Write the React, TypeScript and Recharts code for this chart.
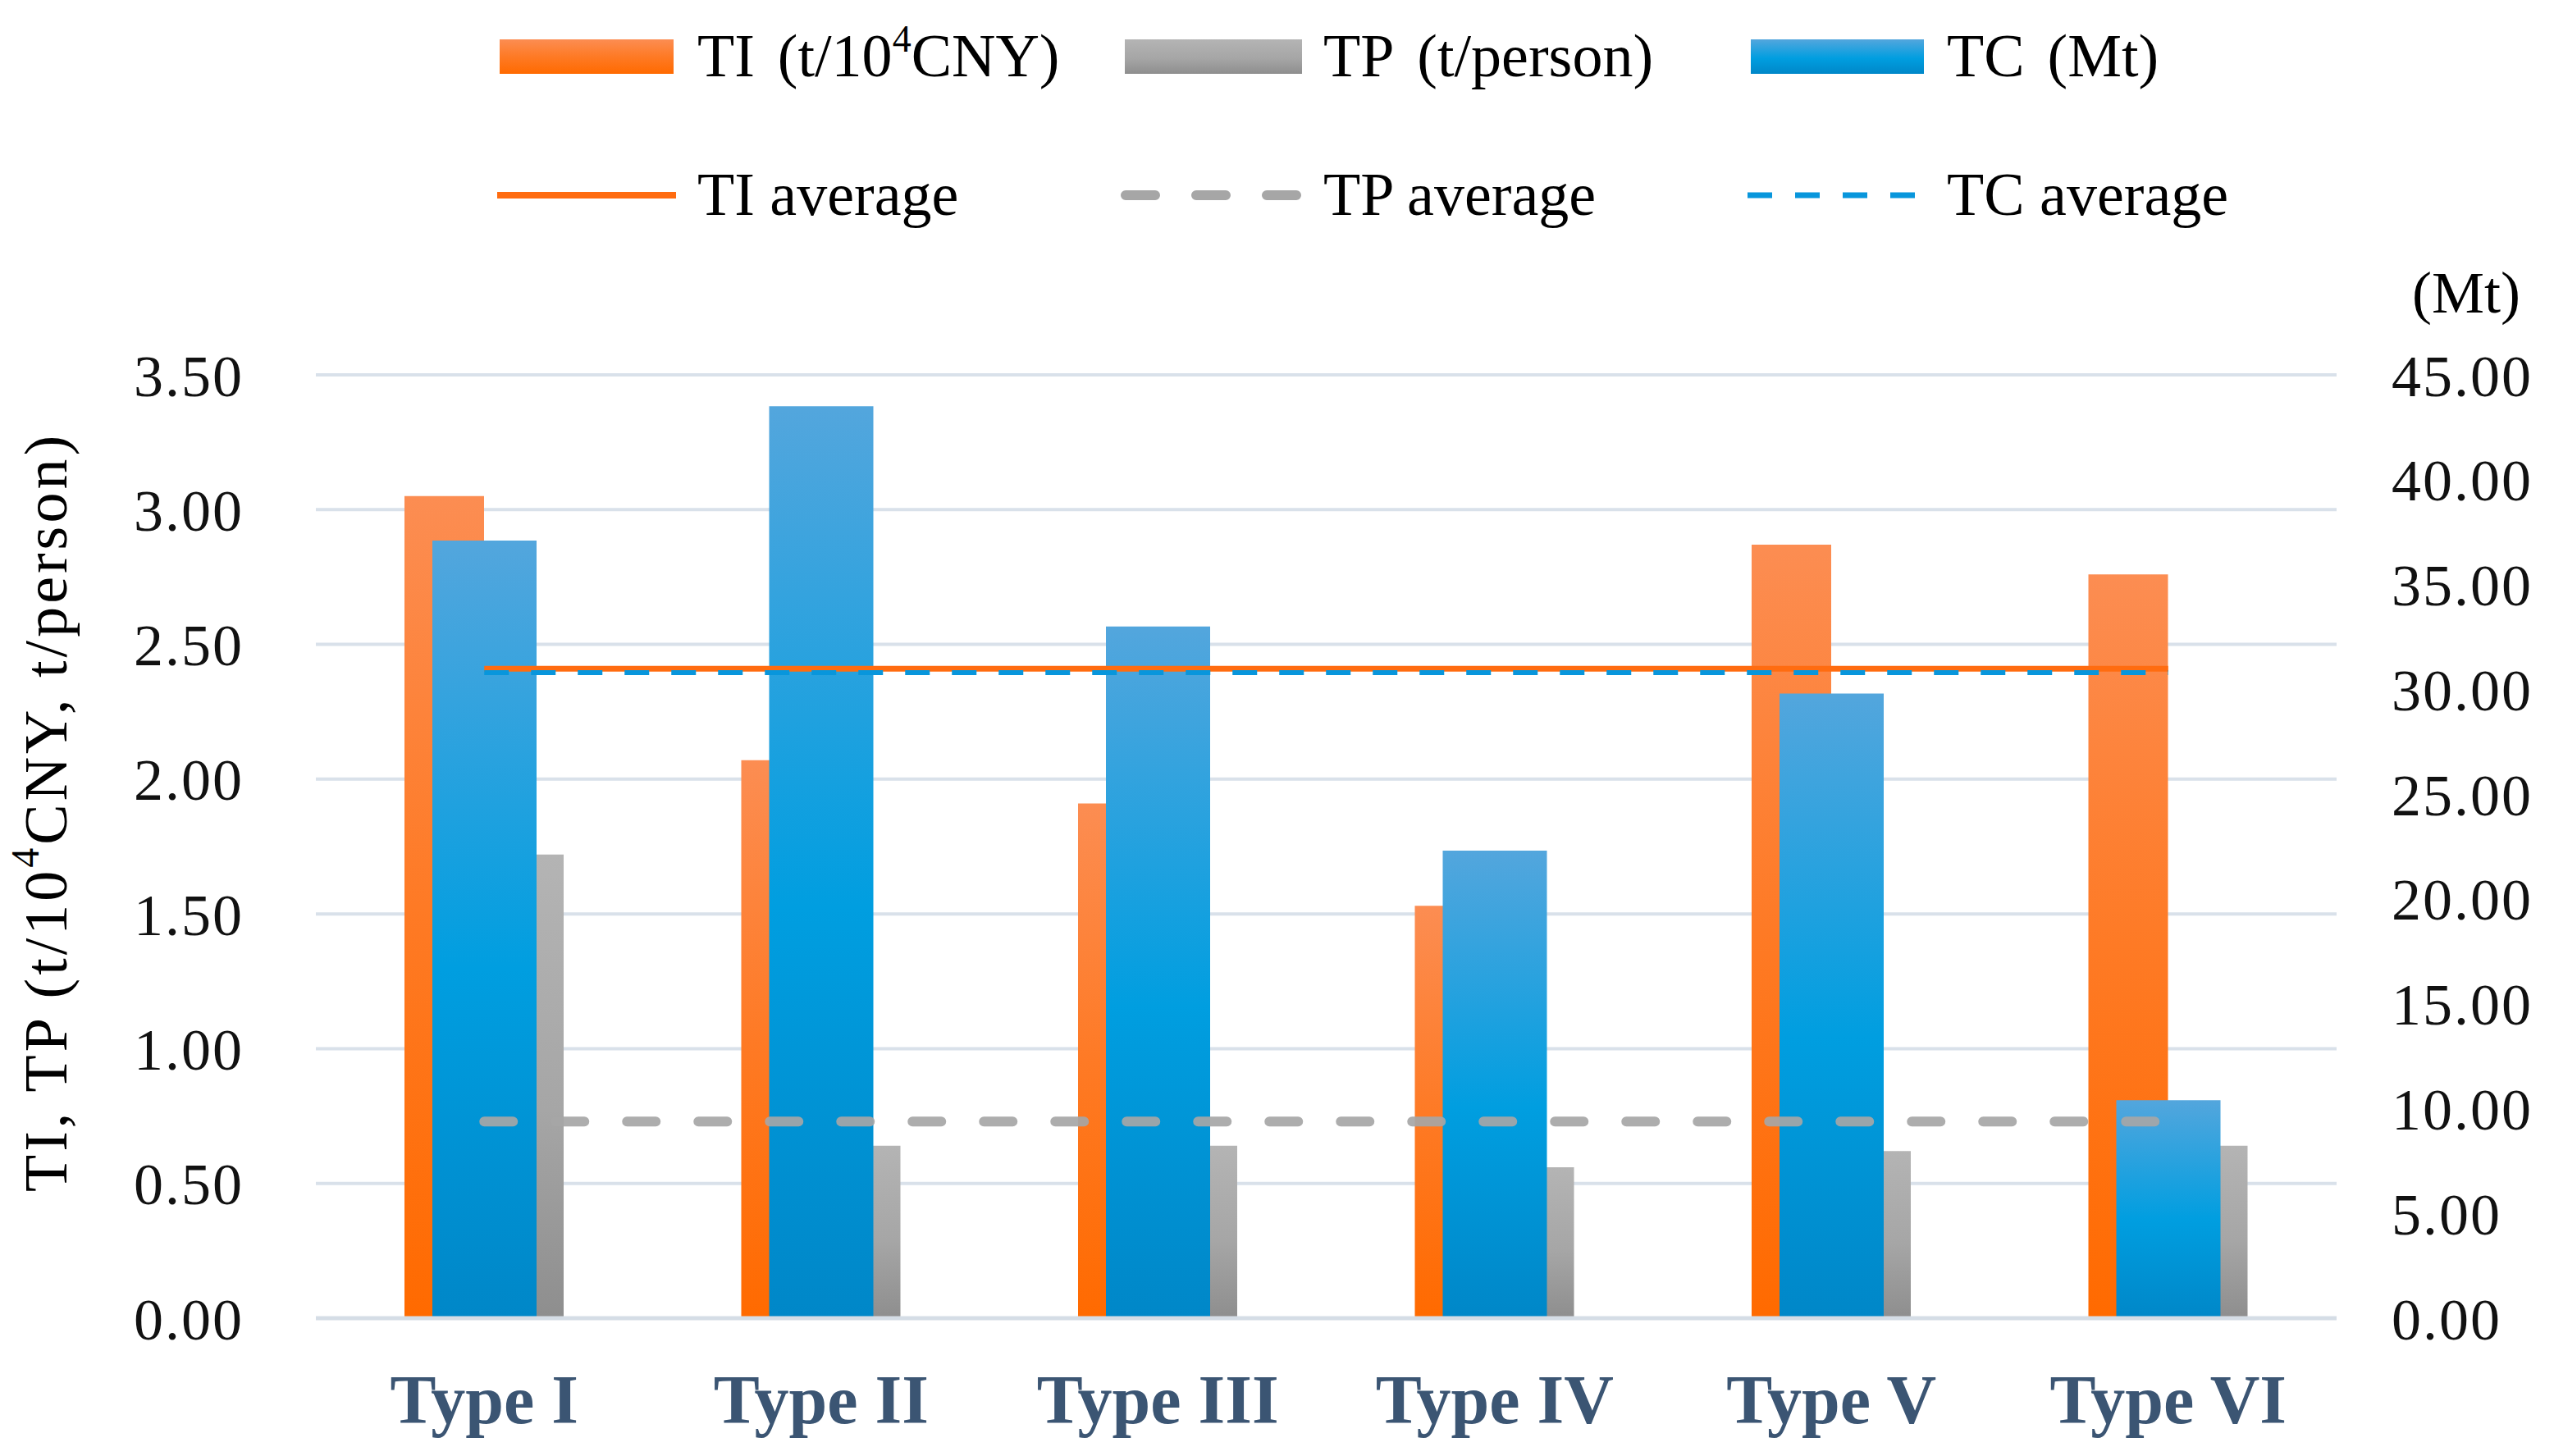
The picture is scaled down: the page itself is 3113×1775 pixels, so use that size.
import React from "react";
import { Bar, CartesianGrid, ComposedChart, Line, XAxis, YAxis } from "recharts";

const categories = ["Type I", "Type II", "Type III", "Type IV", "Type V", "Type VI"];
const tiValues = [3.05, 2.07, 1.91, 1.53, 2.87, 2.76];
const tpValues = [1.72, 0.64, 0.64, 0.56, 0.62, 0.64];
const tcValues = [37.1, 43.5, 33.0, 22.3, 29.8, 10.4];
const tiAverage = [2.41, 2.41, 2.41, 2.41, 2.41, 2.41];
const tpAverage = [0.73, 0.73, 0.73, 0.73, 0.73, 0.73];
const tcAverage = [30.8, 30.8, 30.8, 30.8, 30.8, 30.8];
const leftTicks = [0, 0.5, 1, 1.5, 2, 2.5, 3, 3.5];
const rightTicks = [0, 5, 10, 15, 20, 25, 30, 35, 40, 45];

const data = categories.map((type, i) => ({
    type,
    ti: tiValues[i],
    tp: tpValues[i],
    tc: tcValues[i],
    tiAvg: tiAverage[i],
    tpAvg: tpAverage[i],
    tcAvg: tcAverage[i],
}));

const FONT = "'Liberation Serif', 'Times New Roman', serif";
const ORANGE_LINE = "#ff6c10";
const BLUE_LINE = "#0896dc";
const GRAY_LINE = "#a6a6a6";

function Gradients({ prefix }: { prefix: string }) {
    return (
        <defs>
            <linearGradient id={`${prefix}Orange`} x1="0" y1="0" x2="0" y2="1">
                <stop offset="0%" stopColor="#fc8d52" />
                <stop offset="50%" stopColor="#fe7a25" />
                <stop offset="100%" stopColor="#ff6a00" />
            </linearGradient>
            <linearGradient id={`${prefix}Gray`} x1="0" y1="0" x2="0" y2="1">
                <stop offset="0%" stopColor="#b4b4b4" />
                <stop offset="55%" stopColor="#a6a6a6" />
                <stop offset="100%" stopColor="#8e8e8e" />
            </linearGradient>
            <linearGradient id={`${prefix}Blue`} x1="0" y1="0" x2="0" y2="1">
                <stop offset="0%" stopColor="#53a6dd" />
                <stop offset="55%" stopColor="#009ee0" />
                <stop offset="100%" stopColor="#0087c8" />
            </linearGradient>
        </defs>
    );
}

function LegendBlock() {
    const row1 = 69;
    const row2 = 238;
    const textStyle = { fontFamily: FONT, fontSize: 74, fill: "#000" };
    return (
        <svg
            width={3113}
            height={300}
            style={{ position: "absolute", left: 0, top: 0, pointerEvents: "none" }}
        >
            <Gradients prefix="lg" />
            <rect x={609} y={row1 - 21} width={212} height={42} fill="url(#lgOrange)" />
            <text x={850} y={row1 + 24} {...textStyle}>
                TI
                <tspan dx={28}>(t/10</tspan>
                <tspan fontSize={46} dy={-30}>4</tspan>
                <tspan dy={30}>CNY)</tspan>
            </text>
            <rect x={1371} y={row1 - 21} width={216} height={42} fill="url(#lgGray)" />
            <text x={1613} y={row1 + 24} {...textStyle}>
                TP
                <tspan dx={28}>(t/person)</tspan>
            </text>
            <rect x={2134} y={row1 - 21} width={211} height={42} fill="url(#lgBlue)" />
            <text x={2373} y={row1 + 24} {...textStyle}>
                TC
                <tspan dx={28}>(Mt)</tspan>
            </text>

            <line x1={606} x2={824} y1={row2} y2={row2} stroke={ORANGE_LINE} strokeWidth={8} />
            <text x={850} y={row2 + 24} {...textStyle}>TI average</text>
            <line
                x1={1372}
                x2={1581}
                y1={row2}
                y2={row2}
                stroke={GRAY_LINE}
                strokeWidth={12}
                strokeLinecap="round"
                strokeDasharray="36 50"
            />
            <text x={1613} y={row2 + 24} {...textStyle}>TP average</text>
            <line
                x1={2130}
                x2={2334}
                y1={row2}
                y2={row2}
                stroke={BLUE_LINE}
                strokeWidth={7}
                strokeDasharray="30 28"
            />
            <text x={2373} y={row2 + 24} {...textStyle}>TC average</text>
        </svg>
    );
}

function LeftTitle(props: any) {
    const vb = props.viewBox || { x: 0, y: 457, height: 1150 };
    const cx = vb.x + 56;
    const cy = vb.y + 533;
    return (
        <text
            x={cx}
            y={cy}
            transform={`rotate(-90 ${cx} ${cy})`}
            textAnchor="middle"
            dominantBaseline="central"
            fontFamily={FONT}
            fontSize={74}
            letterSpacing={4}
            fill="#000"
        >
            TI, TP (t/10
            <tspan fontSize={48} dy={-26}>4</tspan>
            <tspan dy={26}>CNY, t/person)</tspan>
        </text>
    );
}

function RightTitle(props: any) {
    const vb = props.viewBox || { x: 2848, y: 457 };
    return (
        <text
            x={vb.x + 158}
            y={vb.y - 100}
            textAnchor="middle"
            dominantBaseline="central"
            fontFamily={FONT}
            fontSize={72}
            fill="#000"
        >
            (Mt)
        </text>
    );
}

export default function App() {
    return (
        <div style={{ position: "absolute", left: 0, top: 0, width: 3113, height: 1775, background: "#fff" }}>
            <ComposedChart
                width={3113}
                height={1775}
                data={data}
                margin={{ top: 457, right: 0, bottom: 0, left: 0 }}
                barGap={0}
            >
                <Gradients prefix="bar" />
                <CartesianGrid
                    xAxisId="main"
                    yAxisId="left"
                    vertical={false}
                    stroke="#d9e1ea"
                    strokeWidth={4}
                />
                <XAxis
                    xAxisId="main"
                    dataKey="type"
                    height={168}
                    tickSize={0}
                    tickMargin={68}
                    axisLine={{ stroke: "#d5dde6", strokeWidth: 5 }}
                    tick={{ fontFamily: FONT, fontSize: 84, fontWeight: "bold", fill: "#3b5573" }}
                />
                <XAxis xAxisId="tc" dataKey="type" hide />
                <YAxis
                    yAxisId="left"
                    width={385}
                    domain={[0, 3.5]}
                    ticks={leftTicks}
                    tickFormatter={(v: number) => v.toFixed(2)}
                    axisLine={false}
                    tickLine={false}
                    tickSize={0}
                    tickMargin={88}
                    tick={{ fontFamily: FONT, fontSize: 72, fill: "#111", letterSpacing: 2 }}
                    label={LeftTitle}
                />
                <YAxis
                    yAxisId="right"
                    orientation="right"
                    width={265}
                    domain={[0, 45]}
                    ticks={rightTicks}
                    tickFormatter={(v: number) => v.toFixed(2)}
                    axisLine={false}
                    tickLine={false}
                    tickSize={0}
                    tickMargin={67}
                    tick={{ fontFamily: FONT, fontSize: 72, fill: "#111", letterSpacing: 2 }}
                    label={RightTitle}
                />
                <Bar
                    xAxisId="main"
                    yAxisId="left"
                    dataKey="ti"
                    barSize={97}
                    fill="url(#barOrange)"
                    isAnimationActive={false}
                />
                <Bar
                    xAxisId="main"
                    yAxisId="left"
                    dataKey="tp"
                    barSize={97}
                    fill="url(#barGray)"
                    isAnimationActive={false}
                />
                <Bar
                    xAxisId="tc"
                    yAxisId="right"
                    dataKey="tc"
                    barSize={127}
                    fill="url(#barBlue)"
                    isAnimationActive={false}
                />
                <Line
                    xAxisId="main"
                    yAxisId="left"
                    dataKey="tpAvg"
                    stroke={GRAY_LINE}
                    strokeWidth={12}
                    strokeLinecap="round"
                    strokeDasharray="35 52"
                    strokeOpacity={0.92}
                    dot={false}
                    activeDot={false}
                    isAnimationActive={false}
                />
                <Line
                    xAxisId="main"
                    yAxisId="left"
                    dataKey="tiAvg"
                    stroke={ORANGE_LINE}
                    strokeWidth={7}
                    dot={false}
                    activeDot={false}
                    isAnimationActive={false}
                />
                <Line
                    xAxisId="main"
                    yAxisId="right"
                    dataKey="tcAvg"
                    stroke={BLUE_LINE}
                    strokeWidth={6}
                    strokeDasharray="30 27"
                    dot={false}
                    activeDot={false}
                    isAnimationActive={false}
                />
            </ComposedChart>
            <LegendBlock />
        </div>
    );
}
